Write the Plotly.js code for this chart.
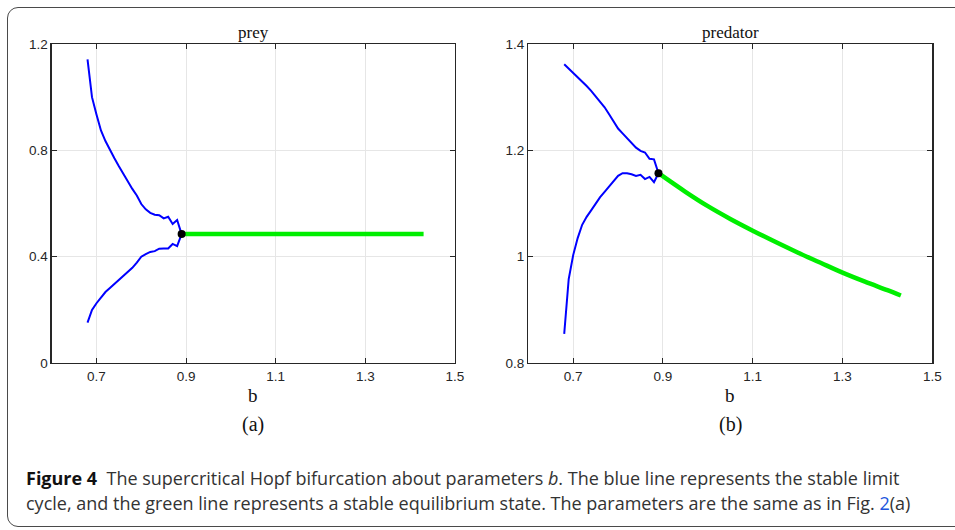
<!DOCTYPE html>
<html>
<head>
<meta charset="utf-8">
<script src="https://cdn.plot.ly/plotly-3.0.1.min.js"></script>
<style>
html,body{margin:0;padding:0;background:#fff;}
#wrap{position:relative;width:955px;height:530px;overflow:hidden;}
#chart{position:absolute;left:0;top:0;width:955px;height:530px;}
#frame{position:absolute;left:7px;top:7px;width:970px;height:520px;border:1.5px solid #4a4a4a;border-radius:11px;pointer-events:none;box-sizing:border-box;}
</style>
</head>
<body>
<div id="wrap"><div id="chart"></div><div id="frame"></div></div>
<script>
// Limit cycle (blue) sampled parameter values
const bCycle = [0.68,0.69,0.70,0.71,0.72,0.73,0.74,0.75,0.76,0.77,0.78,0.79,0.80,0.81,0.82,0.83,0.84,0.85,0.86,0.87,0.88,0.89];
const preyMax = [1.142,1.000,0.935,0.875,0.835,0.800,0.770,0.740,0.710,0.685,0.655,0.630,0.598,0.578,0.565,0.558,0.556,0.544,0.550,0.523,0.538,0.485];
const preyMin = [0.152,0.200,0.225,0.248,0.267,0.282,0.297,0.312,0.326,0.340,0.358,0.378,0.400,0.410,0.418,0.421,0.430,0.431,0.431,0.448,0.440,0.485];
const predMax = [1.362,1.354,1.346,1.338,1.330,1.321,1.312,1.302,1.293,1.281,1.268,1.255,1.241,1.232,1.223,1.215,1.205,1.199,1.196,1.184,1.183,1.157];
const predMin = [0.855,0.958,1.003,1.035,1.060,1.075,1.087,1.100,1.112,1.122,1.132,1.142,1.152,1.157,1.157,1.155,1.152,1.154,1.146,1.150,1.140,1.157];
// Stable equilibrium (green)
const bEq = [0.89,0.95,1.00,1.05,1.10,1.15,1.20,1.25,1.30,1.35,1.40,1.43];
const preyEq = [0.485,0.485,0.485,0.485,0.485,0.485,0.485,0.485,0.485,0.485,0.485,0.485];
const predEq = [1.157,1.122,1.095,1.071,1.049,1.028,1.008,0.989,0.970,0.953,0.937,0.927];
// Hopf point
const hopfB = [0.89];
const hopfPrey = [0.485];
const hopfPred = [1.157];
// Ticks
const xTicks = [0.7,0.9,1.1,1.3,1.5];
const xTickText = ['0.7','0.9','1.1','1.3','1.5'];
const preyTicks = [0,0.4,0.8,1.2];
const preyTickText = ['0','0.4','0.8','1.2'];
const predTicks = [0.8,1,1.2,1.4];
const predTickText = ['0.8','1','1.2','1.4'];

const blue = '#0000ff', green = '#00ee00';
function line(x,y,xa,ya,color,w,shape){return {x:x,y:y,xaxis:xa,yaxis:ya,mode:'lines',line:{color:color,width:w,shape:shape||'linear'},hoverinfo:'skip',showlegend:false};}
function dot(x,y,xa,ya){return {x:x,y:y,xaxis:xa,yaxis:ya,mode:'markers',marker:{color:'#000',size:8},showlegend:false,hoverinfo:'skip'};}

const traces = [
  line(bEq,preyEq,'x','y',green,4.5),
  line(bCycle,preyMax,'x','y',blue,2),
  line(bCycle,preyMin,'x','y',blue,2),
  dot(hopfB,hopfPrey,'x','y'),
  line(bEq,predEq,'x2','y2',green,4.5,'spline'),
  line(bCycle,predMax,'x2','y2',blue,2),
  line(bCycle,predMin,'x2','y2',blue,2),
  dot(hopfB,hopfPred,'x2','y2')
];

const tickFont = {family:'Liberation Sans, Arial, sans-serif',size:13.5,color:'#262626'};
const common = {showline:true,linecolor:'#262626',linewidth:1.3,mirror:'ticks',ticks:'inside',ticklen:5,tickcolor:'#262626',tickwidth:1,
  showgrid:true,gridcolor:'#e6e6e6',gridwidth:1,zeroline:false,tickfont:tickFont,fixedrange:true};
function xax(dom,anchor){return Object.assign({domain:dom,anchor:anchor,range:[0.6,1.5],tickvals:xTicks,ticktext:xTickText},common);}
function yax(range,tv,tt,anchor){return Object.assign({domain:[0.315,0.917],anchor:anchor,range:range,tickvals:tv,ticktext:tt},common);}

const serif = {family:'Liberation Serif, Times New Roman, serif',size:17,color:'#111'};
const capFont = {family:'Open Sans, sans-serif',size:18,color:'#333'};
const xl = (0.0541+0.4764)/2, xr = (0.5532+0.9762)/2;
const layout = {
  width:955,height:530,margin:{l:0,r:0,t:0,b:0},
  paper_bgcolor:'rgba(0,0,0,0)',plot_bgcolor:'#fff',
  xaxis:xax([0.0541,0.4764],'y'),
  yaxis:yax([0,1.2],preyTicks,preyTickText,'x'),
  xaxis2:xax([0.5532,0.9762],'y2'),
  yaxis2:yax([0.8,1.4],predTicks,predTickText,'x2'),
  annotations:[
    {text:'prey',x:xl,y:1-33/530,xref:'paper',yref:'paper',showarrow:false,xanchor:'center',yanchor:'middle',font:serif},
    {text:'predator',x:xr,y:1-33/530,xref:'paper',yref:'paper',showarrow:false,xanchor:'center',yanchor:'middle',font:serif},
    {text:'b',x:xl,y:1-396/530,xref:'paper',yref:'paper',showarrow:false,xanchor:'center',yanchor:'middle',font:{family:serif.family,size:19,color:'#111'}},
    {text:'b',x:xr,y:1-396/530,xref:'paper',yref:'paper',showarrow:false,xanchor:'center',yanchor:'middle',font:{family:serif.family,size:19,color:'#111'}},
    {text:'(a)',x:xl,y:1-424/530,xref:'paper',yref:'paper',showarrow:false,xanchor:'center',yanchor:'middle',font:{family:serif.family,size:20,color:'#111'}},
    {text:'(b)',x:xr,y:1-424/530,xref:'paper',yref:'paper',showarrow:false,xanchor:'center',yanchor:'middle',font:{family:serif.family,size:20,color:'#111'}},
    {text:'<b><span style="color:#111">Figure 4</span></b>  The supercritical Hopf bifurcation about parameters <i>b</i>. The blue line represents the stable limit',
     x:24/955,y:1-478/530,xref:'paper',yref:'paper',showarrow:false,xanchor:'left',yanchor:'middle',font:capFont},
    {text:'cycle, and the green line represents a stable equilibrium state. The parameters are the same as in Fig. <span style="color:#2255dd">2</span>(a)',
     x:24/955,y:1-503/530,xref:'paper',yref:'paper',showarrow:false,xanchor:'left',yanchor:'middle',font:capFont}
  ]
};
Plotly.newPlot('chart',traces,layout,{displayModeBar:false,staticPlot:true});
</script>
</body>
</html>
